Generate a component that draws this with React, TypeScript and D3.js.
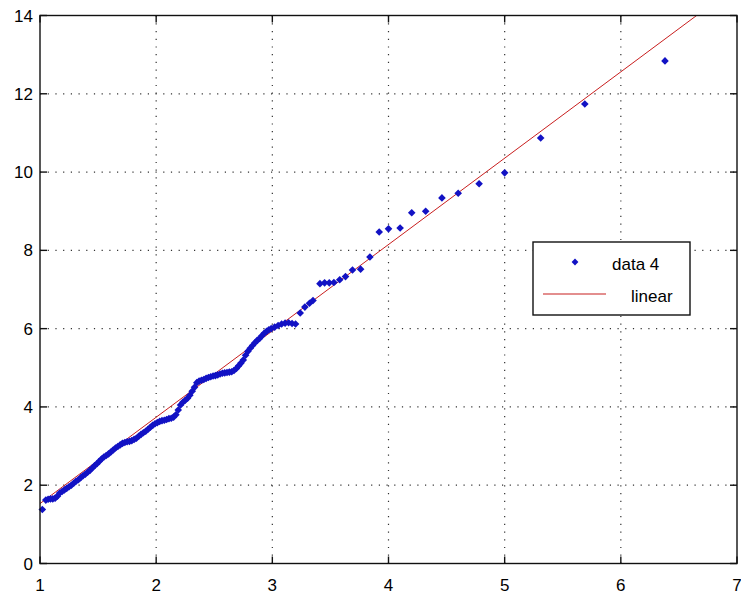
import React from "react";
import * as d3 from "d3";

// Measured sample (x, y) pairs, sorted by x
const sampleX = [
  1.02, 1.05, 1.07, 1.09, 1.11, 1.13, 1.15, 1.17, 1.19, 1.21, 1.23, 1.25, 1.27, 1.29, 1.31, 1.33,
  1.35, 1.37, 1.39, 1.41, 1.43, 1.45, 1.47, 1.49, 1.51, 1.53, 1.55, 1.57, 1.59, 1.61, 1.63, 1.65,
  1.67, 1.69, 1.71, 1.73, 1.75, 1.77, 1.79, 1.81, 1.83, 1.85, 1.87, 1.89, 1.91, 1.93, 1.95, 1.97,
  1.99, 2.01, 2.03, 2.05, 2.07, 2.09, 2.11, 2.13, 2.15, 2.17, 2.19, 2.21, 2.23, 2.25, 2.27, 2.29,
  2.31, 2.33, 2.35, 2.37, 2.39, 2.41, 2.43, 2.45, 2.47, 2.49, 2.51, 2.53, 2.55, 2.57, 2.59, 2.61,
  2.63, 2.65, 2.67, 2.69, 2.71, 2.73, 2.75, 2.77, 2.79, 2.81, 2.83, 2.85, 2.87, 2.89, 2.91, 2.93,
  2.95, 2.97, 2.99, 3.02, 3.05, 3.08, 3.11, 3.14, 3.17, 3.2,
  3.24, 3.28, 3.32, 3.35, 3.41, 3.45, 3.49, 3.53, 3.58, 3.63, 3.69, 3.76, 3.84,
  3.92, 4.0, 4.1, 4.2, 4.32, 4.46, 4.6, 4.78, 5.0, 5.31, 5.69, 6.38,
];
const sampleY = [
  1.38, 1.62, 1.64, 1.65, 1.65, 1.67, 1.72, 1.8, 1.84, 1.88, 1.92, 1.96, 2.0, 2.05, 2.1, 2.14,
  2.19, 2.24, 2.28, 2.33, 2.38, 2.44, 2.5, 2.55, 2.61, 2.67, 2.72, 2.76, 2.8, 2.85, 2.9, 2.95,
  2.99, 3.03, 3.07, 3.09, 3.11, 3.12, 3.14, 3.17, 3.2, 3.25, 3.3, 3.34, 3.38, 3.43, 3.48, 3.53,
  3.57, 3.6, 3.63, 3.65, 3.66, 3.68, 3.7, 3.71, 3.74, 3.8, 3.92, 4.05, 4.12, 4.17, 4.22, 4.3,
  4.4, 4.5, 4.62, 4.66, 4.68, 4.7, 4.73, 4.75, 4.77, 4.79, 4.8, 4.82, 4.84, 4.86, 4.87, 4.88,
  4.89, 4.9, 4.93, 4.98, 5.05, 5.12, 5.2, 5.32, 5.42, 5.5, 5.57, 5.64, 5.7, 5.75, 5.82, 5.88,
  5.93, 5.97, 6.0, 6.04, 6.08, 6.12, 6.14, 6.15, 6.13, 6.12,
  6.4, 6.55, 6.65, 6.72, 7.15, 7.17, 7.17, 7.18, 7.25, 7.33, 7.5, 7.52, 7.83,
  8.47, 8.55, 8.57, 8.96, 9.0, 9.34, 9.46, 9.7, 9.98, 10.87, 11.74, 12.84,
];

// Linear fit y = slope * x + intercept
const fitSlope = 2.206;
const fitIntercept = -0.675;

const xTicks = [1, 2, 3, 4, 5, 6, 7];
const yTicks = [0, 2, 4, 6, 8, 10, 12, 14];
const legendLabels = ["data 4", "linear"];

const W = 741;
const H = 596;
const left = 40;
const right = 737;
const top = 15.5;
const bottom = 563.5;

export default function App() {
  const x = d3.scaleLinear().domain([1, 7]).range([left, right]);
  const y = d3.scaleLinear().domain([0, 14]).range([bottom, top]);

  const points = sampleX.map((v, i) => [v, sampleY[i]] as [number, number]);
  const fitLine = d3
    .line<number>()
    .x((v) => x(v))
    .y((v) => y(fitSlope * v + fitIntercept));

  const diamond = (cx: number, cy: number, r: number) =>
    `M${cx},${cy - r}L${cx + r},${cy}L${cx},${cy + r}L${cx - r},${cy}Z`;

  const font = "'Liberation Sans', Arial, sans-serif";
  const fontSize = 17;
  const tickLen = 7;
  const markerColor = "#1212c4";
  const lineColor = "#c81e1e";

  return (
    <div style={{ position: "absolute", left: 0, top: 0 }}>
      <svg width={W} height={H} style={{ display: "block", background: "#fff" }}>
        <defs>
          <clipPath id="plotClip">
            <rect x={left} y={top} width={right - left} height={bottom - top} />
          </clipPath>
        </defs>

        {/* grid */}
        <g stroke="#333" strokeWidth={1.2} strokeDasharray="1.2 6.5">
          {xTicks.slice(1, -1).map((t) => (
            <line key={"gx" + t} x1={x(t)} x2={x(t)} y1={bottom} y2={top} />
          ))}
          {yTicks.slice(1, -1).map((t) => (
            <line key={"gy" + t} x1={left} x2={right} y1={y(t)} y2={y(t)} />
          ))}
        </g>

        {/* fit line */}
        <g clipPath="url(#plotClip)">
          <path d={fitLine([1, 7]) || ""} fill="none" stroke={lineColor} strokeWidth={1} />
        </g>

        {/* samples */}
        <g fill={markerColor}>
          {points.map(([px, py], i) => (
            <path key={i} d={diamond(x(px), y(py), 3.8)} />
          ))}
        </g>

        {/* axes box and inward ticks */}
        <g stroke="#111" strokeWidth={1.4} fill="none">
          <rect x={left} y={top} width={right - left} height={bottom - top} />
          {xTicks.map((t) => (
            <g key={"tx" + t}>
              <line x1={x(t)} x2={x(t)} y1={bottom} y2={bottom - tickLen} />
              <line x1={x(t)} x2={x(t)} y1={top} y2={top + tickLen} />
            </g>
          ))}
          {yTicks.map((t) => (
            <g key={"ty" + t}>
              <line x1={left} x2={left + tickLen} y1={y(t)} y2={y(t)} />
              <line x1={right} x2={right - tickLen} y1={y(t)} y2={y(t)} />
            </g>
          ))}
        </g>

        {/* tick labels */}
        <g fontFamily={font} fontSize={fontSize} fill="#000">
          {xTicks.map((t) => (
            <text key={"lx" + t} x={x(t)} y={bottom + 27} textAnchor="middle">
              {t}
            </text>
          ))}
          {yTicks.map((t) => (
            <text key={"ly" + t} x={left - 7} y={y(t) + 6} textAnchor="end">
              {t}
            </text>
          ))}
        </g>

        {/* legend */}
        <g>
          <rect x={533} y={242} width={157} height={73} fill="#fff" stroke="#111" strokeWidth={1.4} />
          <path d={diamond(575, 262, 3.4)} fill={markerColor} />
          <line x1={543} x2={606} y1={294} y2={294} stroke={lineColor} strokeWidth={1.2} />
          <text x={612} y={270} fontFamily={font} fontSize={fontSize} fill="#000">
            {legendLabels[0]}
          </text>
          <text x={631} y={302} fontFamily={font} fontSize={fontSize} fill="#000">
            {legendLabels[1]}
          </text>
        </g>
      </svg>
    </div>
  );
}
